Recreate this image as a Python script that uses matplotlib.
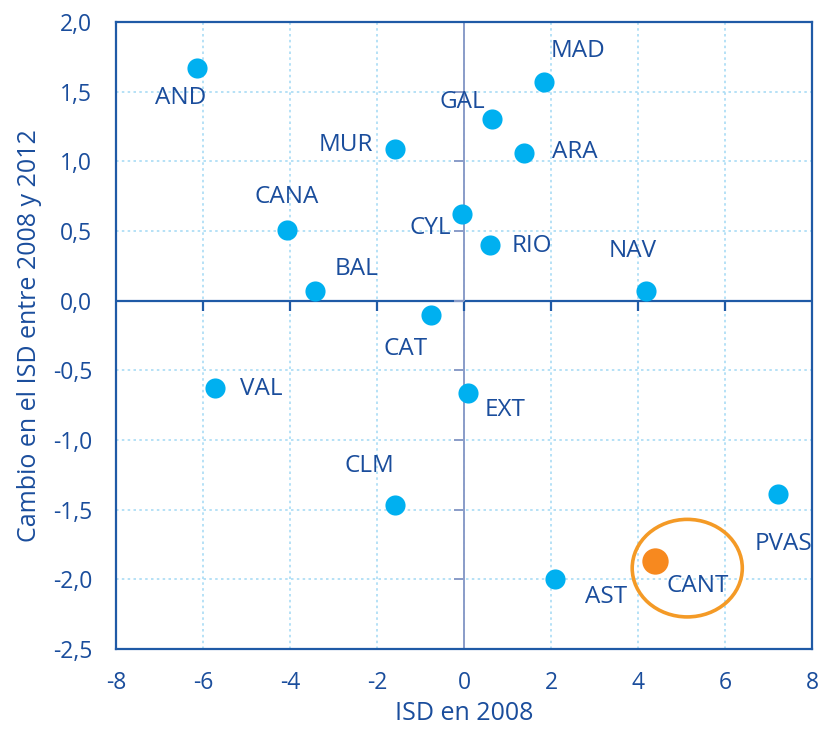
import numpy as np
import matplotlib.pyplot as plt
from matplotlib.patches import Ellipse
from matplotlib.ticker import FuncFormatter

regions = ["AND", "MAD", "GAL", "ARA", "MUR", "CANA", "CYL", "RIO", "NAV",
           "BAL", "CAT", "VAL", "EXT", "CLM", "PVAS", "CANT", "AST"]
isd_2008 = [-6.14, 1.84, 0.64, 1.38, -1.59, -4.07, -0.05, 0.60, 4.18,
            -3.43, -0.76, -5.72, 0.09, -1.59, 7.22, 4.39, 2.09]
cambio = [1.67, 1.57, 1.30, 1.06, 1.09, 0.51, 0.62, 0.40, 0.07,
          0.07, -0.10, -0.63, -0.66, -1.47, -1.39, -1.87, -2.00]
highlight = "CANT"

xticks = [-8, -6, -4, -2, 0, 2, 4, 6, 8]
yticks = [-2.5, -2.0, -1.5, -1.0, -0.5, 0.0, 0.5, 1.0, 1.5, 2.0]

# label offsets in pixels
offsets = {"AND": (-16, -30), "MAD": (34, 31), "GAL": (-30, 17), "ARA": (51, 1),
           "MUR": (-49, 4), "CANA": (0, 33), "CYL": (-32, -14), "RIO": (42, -1),
           "NAV": (-13, 40), "BAL": (42, 22), "CAT": (-25, -34), "VAL": (46, -1),
           "EXT": (37, -17), "CLM": (-25, 39), "PVAS": (5, -50), "CANT": (43, -25),
           "AST": (51, -18)}

plt.rcParams['font.family'] = ['Open Sans', 'DejaVu Sans']
plt.rcParams['axes.unicode_minus'] = False
txt = '#1a4d9c'
frame = '#1f5aa6'

fig = plt.figure(figsize=(8.22, 7.3), dpi=100)
ax = fig.add_axes([0.141, 0.111, 0.847, 0.859])

ax.set_xlim(-8, 8)
ax.set_ylim(-2.5, 2.0)
ax.set_xticks(xticks)
ax.set_yticks(yticks)
ax.xaxis.set_major_formatter(FuncFormatter(lambda v, p: '%d' % v))
ax.yaxis.set_major_formatter(FuncFormatter(lambda v, p: ('%.1f' % v).replace('.', ',')))
ax.tick_params(length=0, labelsize=16.5, labelcolor=txt)
ax.tick_params(axis='y', pad=17)
ax.tick_params(axis='x', pad=16)
for s in ax.spines.values():
    s.set_color(frame)
    s.set_linewidth(1.6)

ax.grid(True, color='#a9dcf5', linestyle=(0, (1.5, 2)), linewidth=1.2)
ax.set_axisbelow(True)

ax.axhline(0, color=frame, lw=1.6, zorder=2)
ax.axvline(0, color='#8a9cc8', lw=1.4, zorder=2)
# small tick marks on the zero lines
ax.plot(xticks[1:-1], [0] * (len(xticks) - 2), ls='none', marker=3, ms=7,
        mew=1.6, color=frame, zorder=2)
ax.plot([0] * (len(yticks) - 2), yticks[1:-1], ls='none', marker=0, ms=7,
        mew=1.4, color='#8a9cc8', zorder=2)

for name, x, y in zip(regions, isd_2008, cambio):
    if name == highlight:
        ax.scatter(x, y, s=360, color='#f7891f', zorder=4, linewidths=0)
    else:
        ax.scatter(x, y, s=210, color='#00b0f0', zorder=4, linewidths=0)
    ax.annotate(name, (x, y), xytext=offsets[name], textcoords='offset pixels',
                ha='center', va='center', fontsize=17.5, color=txt)

ax.add_patch(Ellipse((5.13, -1.92), 2.53, 0.70, fill=False,
                     edgecolor='#f49a26', lw=2.6, zorder=3))

ax.set_xlabel('ISD en 2008', fontsize=18, color=txt, labelpad=4)
ax.set_ylabel('Cambio en el ISD entre 2008 y 2012', fontsize=18, color=txt, labelpad=8)

fig.savefig('out.png', dpi=100)
